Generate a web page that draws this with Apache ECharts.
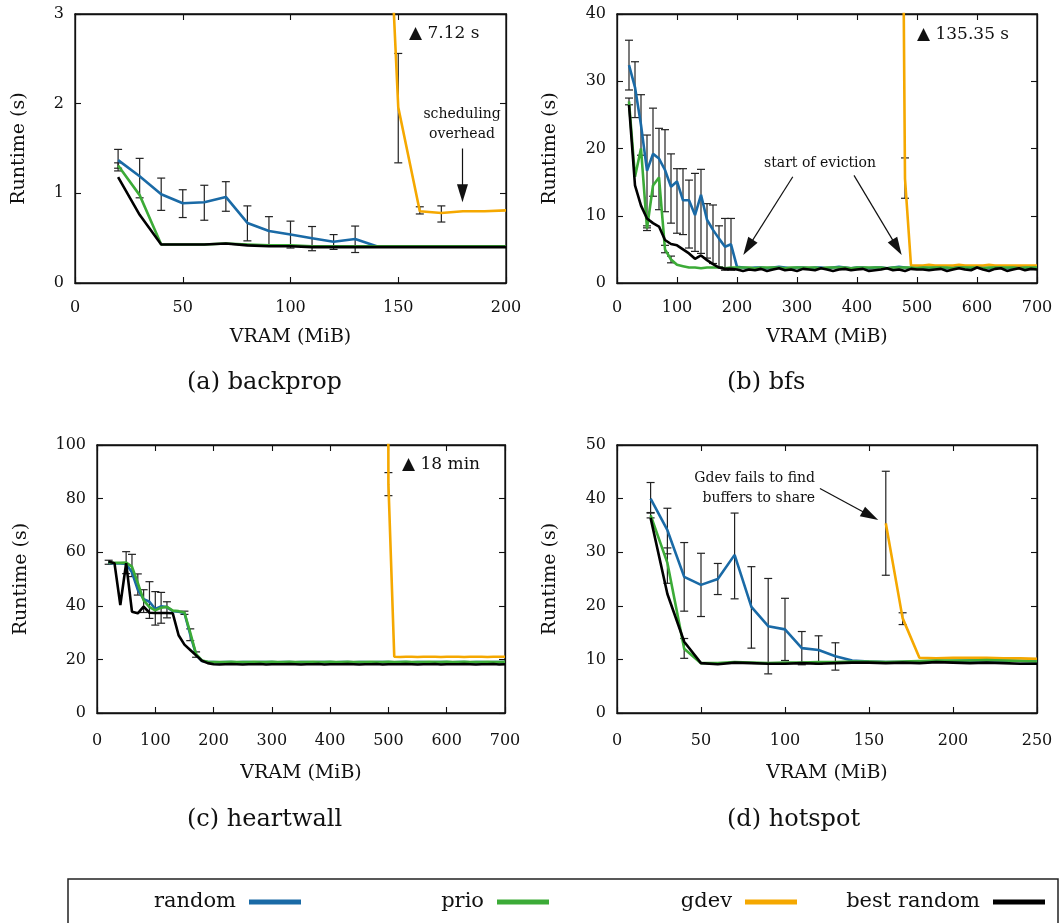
<!DOCTYPE html>
<html><head><meta charset="utf-8">
<script src="https://cdn.jsdelivr.net/npm/echarts@6/dist/echarts.min.js"></script>
<style>html,body{margin:0;padding:0;background:#fff}#c{width:1062px;height:923px}</style>
</head><body><div id="c"></div>
<script>
const FONT = "'DejaVu Serif', serif";
const seriesNames = ['random', 'prio', 'gdev', 'best random'];
const seriesColors = ['#1a6aa6', '#3cab37', '#f5a800', '#000000'];

// ---------- (a) backprop ----------
const backpropX = [20,30,40,50,60,70,80,90,100,110,120,130,140,150,160,170,180,190,200];
const backpropRandom = [1.37,1.19,0.99,0.89,0.90,0.96,0.67,0.58,0.54,0.50,0.46,0.49,0.41,0.41,0.41,0.41,0.41,0.41,0.41];
const backpropPrio = [1.31,0.98,0.43,0.43,0.43,0.44,0.43,0.42,0.42,0.41,0.41,0.41,0.41,0.41,0.41,0.41,0.41,0.41,0.41];
const backpropBest = [1.18,0.76,0.43,0.43,0.43,0.44,0.42,0.41,0.41,0.40,0.40,0.40,0.40,0.40,0.40,0.40,0.40,0.40,0.40];
const backpropGdevX = [140,150,160,170,180,190,200];
const backpropGdev = [7.12,1.96,0.80,0.78,0.80,0.80,0.81];
const backpropErrX = [20,30,40,50,60,70,80,90,100,110,120,130,20,150,160,170];
const backpropErrLo = [1.25,0.95,0.81,0.73,0.70,0.80,0.47,0.41,0.39,0.36,0.375,0.34,1.28,1.34,0.77,0.68];
const backpropErrHi = [1.49,1.39,1.17,1.04,1.09,1.13,0.86,0.74,0.69,0.63,0.54,0.635,1.34,2.56,0.85,0.86];

// ---------- (b) bfs ----------
const bfsX = [20,30,40,50,60,70,80,90,100,110,
  120,130,140,150,160,170,180,190,200,210,
  220,230,240,250,260,270,280,290,300,310,
  320,330,340,350,360,370,380,390,400,410,
  420,430,440,450,460,470,480,490,500,510,
  520,530,540,550,560,570,580,590,600,610,
  620,630,640,650,660,670,680,690,700];
const bfsRandom = [32.4,29.1,23.5,16.7,19.2,18.5,16.8,14.3,15.1,12.3,
  12.3,10.1,13.1,9.4,7.9,6.6,5.4,5.75,2.4,2.3,
  2.2,2.3,2.3,2.2,2.3,2.4,2.3,2.2,2.3,2.3,
  2.2,2.3,2.3,2.2,2.3,2.4,2.3,2.2,2.3,2.3,
  2.2,2.3,2.3,2.2,2.3,2.4,2.3,2.2,2.3,2.3,
  2.2,2.3,2.3,2.2,2.3,2.4,2.3,2.2,2.3,2.3,
  2.2,2.3,2.3,2.2,2.3,2.4,2.3,2.2,2.3];
const bfsPrio = [27.0,15.8,20.0,8.1,14.5,15.7,5.0,3.5,2.7,2.5,
  2.3,2.3,2.2,2.3,2.3,2.3,2.2,2.3,2.3,2.3,
  2.3,2.2,2.3,2.3,2.3,2.3,2.2,2.3,2.3,2.3,
  2.3,2.3,2.2,2.3,2.3,2.3,2.3,2.2,2.3,2.3,
  2.3,2.3,2.3,2.2,2.3,2.3,2.3,2.3,2.2,2.3,
  2.3,2.3,2.3,2.3,2.2,2.3,2.3,2.3,2.3,2.2,
  2.3,2.3,2.3,2.3,2.3,2.2,2.3,2.3,2.3];
const bfsBest = [26.5,14.5,11.5,9.6,8.9,8.4,6.4,5.8,5.6,5.0,
  4.4,3.6,4.1,3.4,2.8,2.3,2.1,2.1,2.0,1.8,
  2.0,1.9,2.1,1.8,2.0,2.2,1.9,2.0,1.8,2.1,
  2.0,1.9,2.2,2.0,1.8,2.0,2.1,1.9,2.0,2.1,
  1.8,1.9,2.0,2.2,1.9,2.0,1.8,2.1,2.0,2.0,
  1.9,2.0,2.1,1.8,2.0,2.2,2.0,1.9,2.3,2.0,
  1.8,2.1,2.2,1.8,2.0,2.2,1.9,2.1,2.0];
const bfsGdevX = [470,480,490,500,510,520,530,540,550,560,570,580,590,600,610,620,630,640,650,660,670,680,690,700];
const bfsGdev = [135.35,15.5,2.6,2.6,2.6,2.7,2.6,2.6,2.6,2.6,2.7,2.6,2.6,2.6,2.6,2.7,2.6,2.6,2.6,2.6,2.6,2.6,2.6,2.6];
const bfsErrX = [20,30,40,50,60,70,80,90,100,110,120,130,140,150,160,170,180,190,20,50,80,90,480];
const bfsErrLo = [28.7,24.6,19.0,8.2,12.9,10.9,10.6,8.9,7.4,7.2,5.2,4.7,4.4,3.7,2.9,2.4,1.9,1.9,26.5,7.8,4.5,3.0,12.6];
const bfsErrHi = [36.1,32.9,28.0,22.0,26.0,23.0,22.8,19.2,17.0,17.0,15.3,16.3,16.9,11.8,11.6,8.5,9.6,9.6,27.5,8.5,5.6,4.0,18.6];

// ---------- (c) heartwall ----------
const heartwallX = [20,30,40,50,60,70,80,90,100,110,
  120,130,140,150,160,170,180,190,200,210,
  220,230,240,250,260,270,280,290,300,310,
  320,330,340,350,360,370,380,390,400,410,
  420,430,440,450,460,470,480,490,500,510,
  520,530,540,550,560,570,580,590,600,610,
  620,630,640,650,660,670,680,690,700];
const heartwallRandom = [56.0,55.8,55.8,55.6,52.5,46.0,42.5,41.5,38.8,39.8,
  39.5,38.0,37.8,37.3,29.2,21.8,19.4,19.0,19.0,18.9,
  19.0,19.0,18.9,19.0,19.0,18.9,19.0,19.0,19.0,18.9,
  19.0,19.0,18.9,19.0,19.0,18.9,19.0,19.0,19.0,18.9,
  19.0,19.0,18.9,19.0,19.0,18.9,19.0,19.0,19.0,18.9,
  19.0,19.0,18.9,19.0,19.0,18.9,19.0,19.0,19.0,18.9,
  19.0,19.0,18.9,19.0,19.0,18.9,19.0,19.0,19.0];
const heartwallPrio = [56.2,56.0,56.0,56.1,54.6,48.5,42.0,39.5,38.3,39.3,
  39.6,38.2,38.0,37.5,30.0,22.0,19.6,19.1,19.0,19.0,
  19.0,19.1,19.0,19.0,19.0,19.1,19.0,19.0,19.1,19.0,
  19.0,19.1,19.0,19.0,19.0,19.1,19.0,19.0,19.1,19.0,
  19.0,19.1,19.0,19.0,19.0,19.1,19.0,19.0,19.1,19.0,
  19.0,19.1,19.0,19.0,19.0,19.1,19.0,19.0,19.1,19.0,
  19.0,19.1,19.0,19.0,19.0,19.1,19.0,19.0,19.1];
const heartwallBest = [56.5,55.9,40.3,55.9,37.8,37.2,39.7,37.4,37.3,37.3,
  37.3,37.2,29.0,25.5,23.5,21.5,19.5,18.6,18.2,18.1,
  18.2,18.3,18.2,18.1,18.2,18.2,18.3,18.1,18.2,18.2,
  18.2,18.3,18.2,18.1,18.2,18.2,18.3,18.1,18.2,18.2,
  18.2,18.3,18.2,18.1,18.2,18.2,18.3,18.1,18.2,18.2,
  18.2,18.3,18.2,18.1,18.2,18.2,18.3,18.1,18.2,18.2,
  18.2,18.3,18.2,18.1,18.2,18.2,18.3,18.1,18.2];
const heartwallGdevX = [490,500,510,520,530,540,550,560,570,580,590,600,610,620,630,640,650,660,670,680,690,700];
const heartwallGdev = [1080,85.4,21.0,20.9,21.0,21.0,20.9,21.0,21.0,21.0,20.9,21.0,21.0,21.0,20.9,21.0,21.0,21.0,20.9,21.0,21.0,21.0];
const heartwallErrX = [20,50,60,70,80,90,100,110,120,150,160,170,500];
const heartwallErrLo = [55.5,52.0,50.9,44.0,37.5,35.3,32.8,33.5,35.5,36.8,27.0,20.8,81.1];
const heartwallErrHi = [57.0,60.2,59.2,51.9,46.0,49.0,45.3,45.0,41.5,38.0,31.4,22.8,89.7];

// ---------- (d) hotspot ----------
const hotspotX = [20,30,40,50,60,70,80,90,100,110,120,130,140,150,160,170,180,190,200,210,220,230,240,250];
const hotspotRandom = [40.0,34.1,25.4,23.9,25.0,29.5,19.8,16.2,15.6,12.1,11.75,10.6,9.8,9.6,9.5,9.5,9.6,9.6,9.7,9.8,9.8,9.8,9.7,9.6];
const hotspotPrio = [36.9,28.0,12.0,9.3,9.3,9.5,9.4,9.3,9.4,9.4,9.5,9.5,9.6,9.6,9.5,9.6,9.7,9.8,9.8,9.8,9.9,9.8,9.7,9.6];
const hotspotBest = [36.4,22.2,13.3,9.3,9.1,9.4,9.3,9.2,9.2,9.3,9.2,9.3,9.4,9.4,9.3,9.4,9.3,9.5,9.4,9.3,9.4,9.3,9.2,9.2];
const hotspotGdevX = [160,170,180,190,200,210,220,230,240,250];
const hotspotGdev = [35.4,17.7,10.3,10.2,10.3,10.3,10.3,10.2,10.2,10.1];
const hotspotErrX = [20,30,40,50,60,70,80,90,100,110,120,130,20,30,40,160,170];
const hotspotErrLo = [37.4,29.7,19.0,18.0,22.1,21.3,12.1,7.3,9.8,9.0,9.1,8.0,36.4,24.2,10.2,25.7,16.5];
const hotspotErrHi = [43.0,38.2,31.8,29.8,27.9,37.3,27.3,25.1,21.4,15.2,14.4,13.1,37.3,30.8,13.9,45.1,18.7];

// ---------- axes / ticks ----------
const xMaxes = [200, 700, 700, 250];
const xSteps = [50, 100, 100, 50];
const yMaxes = [3, 40, 100, 50];
const ySteps = [1, 10, 20, 10];
const captions = ['(a) backprop', '(b) bfs', '(c) heartwall', '(d) hotspot'];
const xName = 'VRAM (MiB)';
const yName = 'Runtime (s)';

const panels = [
  {x: backpropX, random: backpropRandom, prio: backpropPrio, best: backpropBest, gx: backpropGdevX, gdev: backpropGdev, ex: backpropErrX, elo: backpropErrLo, ehi: backpropErrHi},
  {x: bfsX, random: bfsRandom, prio: bfsPrio, best: bfsBest, gx: bfsGdevX, gdev: bfsGdev, ex: bfsErrX, elo: bfsErrLo, ehi: bfsErrHi},
  {x: heartwallX, random: heartwallRandom, prio: heartwallPrio, best: heartwallBest, gx: heartwallGdevX, gdev: heartwallGdev, ex: heartwallErrX, elo: heartwallErrLo, ehi: heartwallErrHi},
  {x: hotspotX, random: hotspotRandom, prio: hotspotPrio, best: hotspotBest, gx: hotspotGdevX, gdev: hotspotGdev, ex: hotspotErrX, elo: hotspotErrLo, ehi: hotspotErrHi}
];

// annotation arrows (data coords): [fromX, fromY, toX, toY]
const arrows = [
  [[179.8, 1.50, 179.8, 1.0]],
  [[293, 15.8, 218.5, 5.3], [395, 16.0, 466.8, 5.3]],
  [],
  [[120.8, 41.9, 150.8, 36.8]]
];

const grids = [
  {left: 75, top: 14, width: 431, height: 269},
  {left: 617, top: 14, width: 420, height: 269},
  {left: 97, top: 445, width: 408, height: 268},
  {left: 617, top: 445, width: 420, height: 268}
];
const yNameGaps = [46, 57, 66, 57];
const xLabelMargins = [17, 17, 20, 20];
const xNameGaps = [45, 45, 51, 51];
const ink = '#111';

const xAxis = [], yAxis = [], series = [];
const axLine = {onZero: false, lineStyle: {color: ink, width: 1.3}};
const axTick = {inside: true, length: 6, lineStyle: {color: ink, width: 1.1}};

grids.forEach((g, i) => {
  xAxis.push({type: 'value', gridIndex: i, position: 'bottom', min: 0, max: xMaxes[i], interval: xSteps[i],
    name: xName, nameLocation: 'middle', nameGap: xNameGaps[i],
    nameTextStyle: {fontFamily: FONT, fontSize: 19, color: ink},
    axisLine: axLine, axisTick: axTick,
    axisLabel: {margin: xLabelMargins[i], fontFamily: FONT, fontSize: 16, color: ink},
    splitLine: {show: false}});
  xAxis.push({type: 'value', gridIndex: i, position: 'top', min: 0, max: xMaxes[i], interval: xSteps[i],
    axisLine: axLine, axisTick: axTick, axisLabel: {show: false}, splitLine: {show: false}});
  yAxis.push({type: 'value', gridIndex: i, position: 'left', min: 0, max: yMaxes[i], interval: ySteps[i],
    name: yName, nameLocation: 'middle', nameGap: yNameGaps[i], nameRotate: 90,
    nameTextStyle: {fontFamily: FONT, fontSize: 19, color: ink},
    axisLine: axLine, axisTick: axTick,
    axisLabel: {margin: 11, fontFamily: FONT, fontSize: 16, color: ink},
    splitLine: {show: false}});
  yAxis.push({type: 'value', gridIndex: i, position: 'right', min: 0, max: yMaxes[i], interval: ySteps[i],
    axisLine: axLine, axisTick: axTick, axisLabel: {show: false}, splitLine: {show: false}});
});

function errRender(params, api) {
  const x = api.value(0), lo = api.value(1), hi = api.value(2);
  const p1 = api.coord([x, lo]), p2 = api.coord([x, hi]);
  const w = 4;
  const st = {stroke: '#222', lineWidth: 1.2};
  return {type: 'group', children: [
    {type: 'line', shape: {x1: p1[0], y1: p1[1], x2: p2[0], y2: p2[1]}, style: st},
    {type: 'line', shape: {x1: p1[0] - w, y1: p1[1], x2: p1[0] + w, y2: p1[1]}, style: st},
    {type: 'line', shape: {x1: p2[0] - w, y1: p2[1], x2: p2[0] + w, y2: p2[1]}, style: st}
  ]};
}

panels.forEach((p, i) => {
  series.push({type: 'custom', name: 'err' + i, xAxisIndex: 2 * i, yAxisIndex: 2 * i,
    renderItem: errRender, clip: true, silent: true, z: 2,
    encode: {x: 0, y: [1, 2]},
    data: p.ex.map((x, k) => [x, p.elo[k], p.ehi[k]])});
  const mk = (name, xs, ys, color, z, extra) => Object.assign({
    type: 'line', name, xAxisIndex: 2 * i, yAxisIndex: 2 * i,
    data: xs.map((x, k) => [x, ys[k]]),
    showSymbol: false, symbol: 'none', clip: true, z,
    lineStyle: {width: 2.6, color}, itemStyle: {color}
  }, extra || {});
  series.push(mk('random', p.x, p.random, seriesColors[0], 3));
  series.push(mk('gdev', p.gx, p.gdev, seriesColors[2], 4));
  series.push(mk('prio', p.x, p.prio, seriesColors[1], 5));
  const extra = arrows[i].length ? {markLine: {silent: true, animation: false,
    symbol: ['none', 'triangle'],
    lineStyle: {color: ink, width: 1.2, type: 'solid'},
    label: {show: false},
    data: arrows[i].map(a => [
      {coord: [a[0], a[1]], symbol: 'none'},
      {coord: [a[2], a[3]], symbol: 'triangle', symbolSize: [11, 18]}
    ])}} : null;
  series.push(mk('best random', p.x, p.best, seriesColors[3], 6, extra));
});

const legendRights = [761, 513, 265, 17];
const legend = seriesNames.map((n, i) => ({
  data: [n], right: legendRights[i], top: 890, align: 'right', orient: 'horizontal',
  icon: 'rect', itemWidth: 52, itemHeight: 5, padding: 0, selectedMode: false,
  textStyle: {fontFamily: FONT, fontSize: 21, color: ink, lineHeight: 24, padding: [0, 8, 0, 0]}
}));

const txt = (text, x, y, size, align, extra) => ({type: 'text', x, y, silent: true, z: 100,
  style: Object.assign({text, fontFamily: FONT, fontSize: size, fill: ink, align: align, verticalAlign: 'middle'}, extra || {})});

const graphic = [
  txt(captions[0], 187, 383, 24, 'left'),
  txt(captions[1], 727, 383, 24, 'left'),
  txt(captions[2], 187, 820, 24, 'left'),
  txt(captions[3], 727, 820, 24, 'left'),
  txt('\u25B2 7.12 s', 409, 34, 17, 'left'),
  txt('\u25B2 135.35 s', 917, 35, 17, 'left'),
  txt('\u25B2 18 min', 402, 465, 17, 'left'),
  txt('scheduling\noverhead', 462, 124, 14, 'center', {lineHeight: 20}),
  txt('start of eviction', 820, 163, 14, 'center'),
  txt('Gdev fails to find\nbuffers to share', 815, 488, 14, 'right', {lineHeight: 20}),
  {type: 'rect', z: 100, silent: true, shape: {x: 68, y: 879, width: 990, height: 60},
    style: {fill: 'none', stroke: '#222', lineWidth: 1.5}}
];

const chart = echarts.init(document.getElementById('c'));
chart.setOption({
  animation: false,
  backgroundColor: '#fff',
  grid: grids.map(g => Object.assign({show: true, borderColor: ink, borderWidth: 1.3, backgroundColor: 'transparent'}, g)),
  xAxis, yAxis, series, legend, graphic
});
</script></body></html>
